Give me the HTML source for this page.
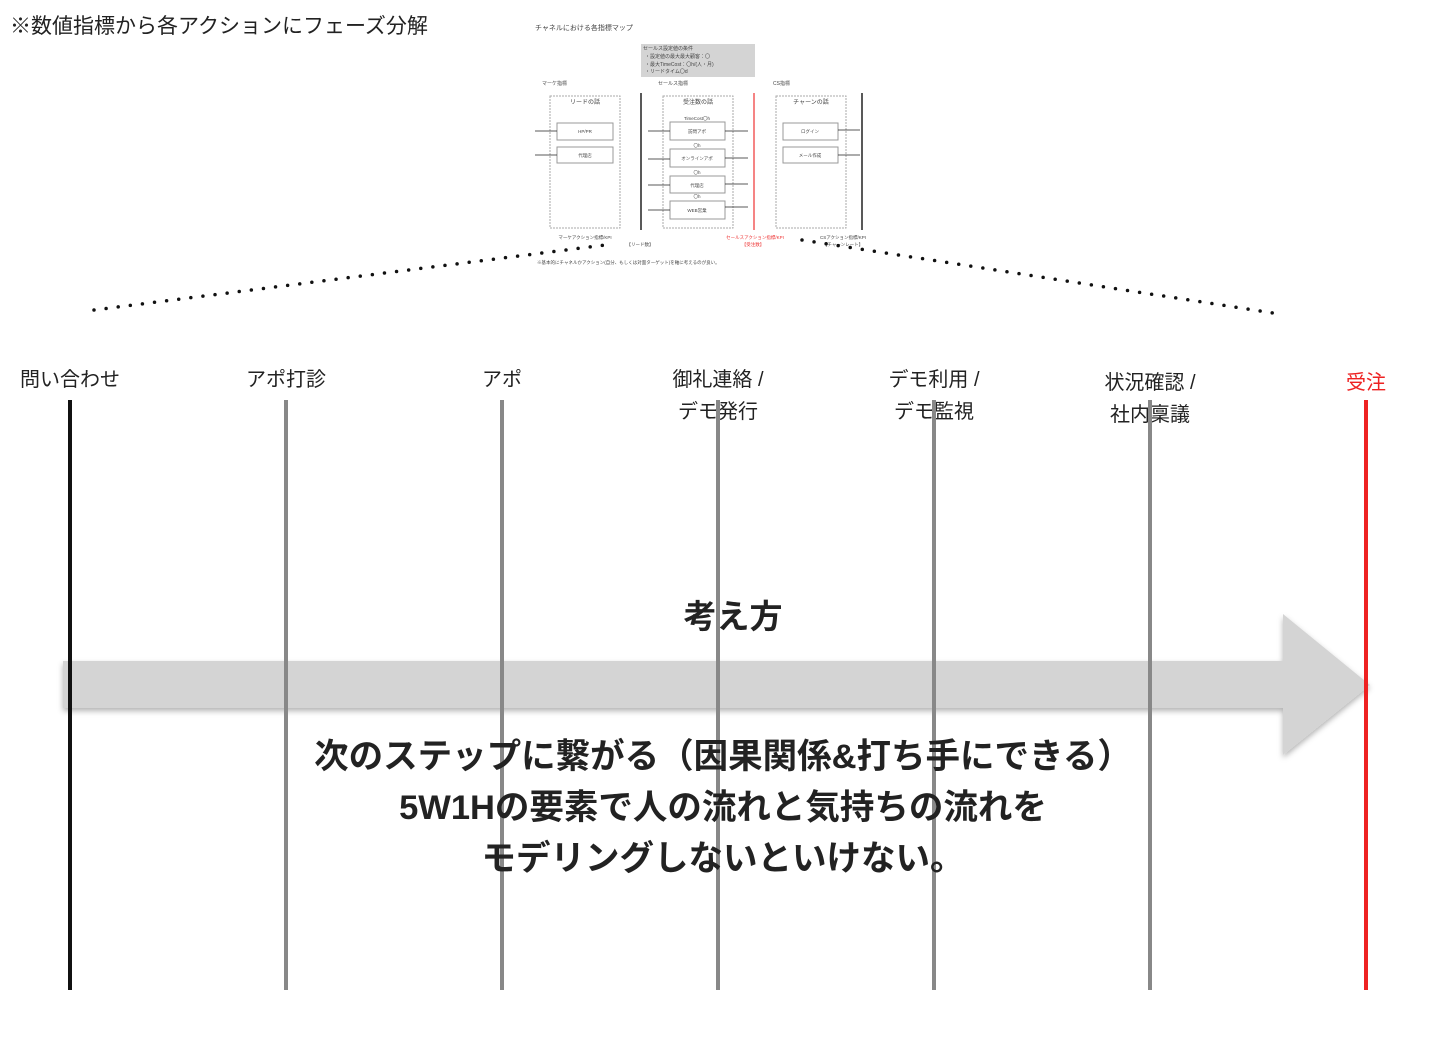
<!DOCTYPE html><html><head><meta charset="utf-8"><style>
body{margin:0;width:1440px;height:1048px;background:#fff;position:relative;overflow:hidden;font-family:"Liberation Sans","Noto Sans CJK JP",sans-serif}
.a{position:absolute}
.lb{position:absolute;font-size:20px;color:#222;text-align:center;width:200px;line-height:32px}
.vl{position:absolute;top:400px;height:590px;width:4px;background:#888}
</style></head><body>
<div class="a" style="left:10px;top:10px;font-size:21px;color:#222">※数値指標から各アクションにフェーズ分解</div>
<svg class="a" style="left:0;top:0" width="1440" height="330" font-family="Liberation Sans,Noto Sans CJK JP,sans-serif">
<text x="535" y="30" font-size="7" fill="#444">チャネルにおける各指標マップ</text>
<rect x="641" y="44" width="114" height="33" fill="#d4d4d4"/>
<text font-size="5" fill="#444"><tspan x="643" y="50">セールス設定値の条件</tspan><tspan x="645" y="58">・設定値の最大最大顧客：〇</tspan><tspan x="645" y="66">・最大TimeCost：〇h/(人・月)</tspan><tspan x="645" y="73">・リードタイム〇d</tspan></text>
<text font-size="5" fill="#444"><tspan x="542" y="85">マーケ指標</tspan><tspan x="658" y="85">セールス指標</tspan><tspan x="773" y="85">CS指標</tspan></text>
<g fill="none" stroke="#aaa" stroke-dasharray="2 1"><rect x="550" y="96" width="70" height="132"/><rect x="663" y="96" width="70" height="132"/><rect x="776" y="96" width="70" height="132"/></g>
<g font-size="6" fill="#444" text-anchor="middle"><text x="585" y="104">リードの話</text><text x="698" y="104">受注数の話</text><text x="811" y="104">チャーンの話</text></g>
<g fill="#fff" stroke="#999"><rect x="557" y="123" width="56" height="17"/><rect x="557" y="147" width="56" height="16"/><rect x="670" y="122" width="55" height="18"/><rect x="670" y="149" width="55" height="18"/><rect x="670" y="176" width="55" height="17"/><rect x="670" y="201" width="55" height="18"/><rect x="783" y="123" width="55" height="17"/><rect x="783" y="147" width="55" height="16"/></g>
<g font-size="4.5" fill="#444" text-anchor="middle"><text x="585" y="133">HP/PR</text><text x="585" y="157">代理店</text><text x="697" y="133">訪問アポ</text><text x="697" y="160">オンラインアポ</text><text x="697" y="187">代理店</text><text x="697" y="212">WEB営業</text><text x="810" y="133">ログイン</text><text x="810" y="157">メール作成</text>
<text x="697" y="120">TimeCost〇h</text><text x="697" y="147">〇h</text><text x="697" y="174">〇h</text><text x="697" y="198">〇h</text></g>
<line x1="641" y1="93" x2="641" y2="230" stroke="#222" stroke-width="1.5"/><line x1="754" y1="93" x2="754" y2="230" stroke="#e33" stroke-width="1.2"/><line x1="862" y1="93" x2="862" y2="230" stroke="#222" stroke-width="1.5"/>
<g stroke="#222" stroke-width="0.8"><line x1="535" y1="131" x2="557" y2="131"/><line x1="535" y1="155" x2="557" y2="155"/><line x1="648" y1="131" x2="670" y2="131"/><line x1="648" y1="159" x2="670" y2="159"/><line x1="648" y1="185" x2="670" y2="185"/><line x1="648" y1="210" x2="670" y2="210"/><line x1="725" y1="131" x2="748" y2="131"/><line x1="725" y1="158" x2="748" y2="158"/><line x1="725" y1="184" x2="748" y2="184"/><line x1="725" y1="207" x2="748" y2="207"/><line x1="838" y1="130" x2="860" y2="130"/><line x1="838" y1="155" x2="860" y2="155"/></g>
<g font-size="4.5" fill="#444" text-anchor="middle"><text x="585" y="239">マーケアクション指標/KPI</text><text x="640" y="246">【リード数】</text><text x="755" y="239" fill="#e33">セールスアクション指標/KPI</text><text x="753" y="246" fill="#e33">【受注数】</text><text x="843" y="239">CSアクション指標/KPI</text><text x="843" y="246">【チャーンレート】</text></g>
<text x="537" y="264" font-size="4.5" fill="#444">※基本的にチャネルかアクション(自分、もしくは対面ターゲット)を軸に考えるのが良い。</text>
<line x1="94" y1="310" x2="605" y2="245" stroke="#111" stroke-width="3.5" stroke-linecap="round" stroke-dasharray="0 12.2"/>
<line x1="802" y1="240" x2="1273" y2="313" stroke="#111" stroke-width="3.5" stroke-linecap="round" stroke-dasharray="0 12.2"/>
</svg>
<div class="lb" style="left:-30px;top:364px">問い合わせ</div>
<div class="lb" style="left:186px;top:364px">アポ打診</div>
<div class="lb" style="left:402px;top:364px">アポ</div>
<div class="lb" style="left:618px;top:364px">御礼連絡 /<br>デモ発行</div>
<div class="lb" style="left:834px;top:364px">デモ利用 /<br>デモ監視</div>
<div class="lb" style="left:1050px;top:367px">状況確認 /<br>社内稟議</div>
<div class="lb" style="left:1266px;top:367px;color:#e22">受注</div>
<svg class="a" style="left:0;top:0" width="1440" height="1048"><defs><filter id="s" x="-5%" y="-20%" width="110%" height="140%"><feDropShadow dx="0" dy="3" stdDeviation="3" flood-color="#000" flood-opacity="0.3"/></filter></defs>
<polygon points="63,661 1283,661 1283,614 1370,685 1283,755 1283,708 63,708" fill="#d4d4d4" filter="url(#s)"/></svg>
<div class="vl" style="left:68px;background:#111"></div>
<div class="vl" style="left:284px"></div><div class="vl" style="left:500px"></div><div class="vl" style="left:716px"></div><div class="vl" style="left:932px"></div><div class="vl" style="left:1148px"></div>
<div class="vl" style="left:1364px;background:#e22"></div>
<div class="a" style="left:633px;top:590px;width:200px;text-align:center;font-size:33px;font-weight:bold;color:#222">考え方</div>
<div class="a" style="left:123px;top:732px;width:1200px;text-align:center;font-size:34.5px;font-weight:bold;color:#222;line-height:51px">次のステップに繋がる（因果関係&amp;打ち手にできる）<br>5W1Hの要素で人の流れと気持ちの流れを<br>モデリングしないといけない。</div>
</body></html>
